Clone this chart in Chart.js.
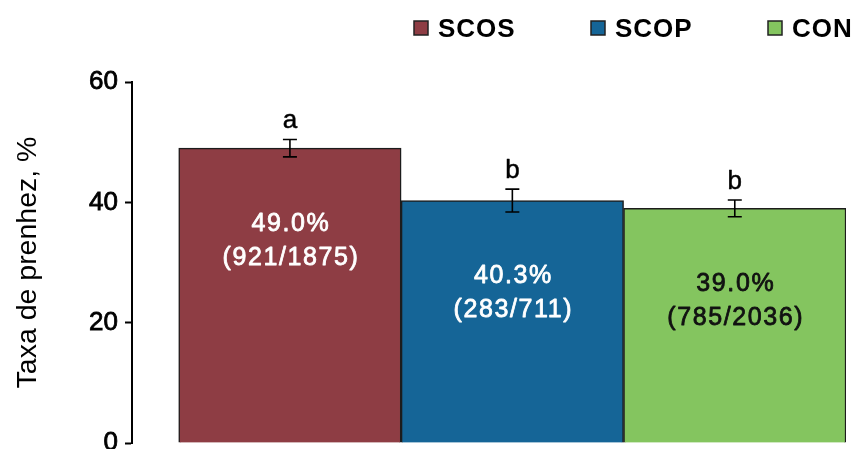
<!DOCTYPE html>
<html>
<head>
<meta charset="utf-8">
<script src="https://cdn.jsdelivr.net/npm/chart.js@4"></script>
<style>
  html, body { margin: 0; padding: 0; background: #fff; }
  #wrap { width: 857px; height: 449px; }
</style>
</head>
<body>
<div id="wrap"><canvas id="chart" width="857" height="449"></canvas></div>
<script>
// Pregnancy rate per treatment group
const categories = ['SCOS', 'SCOP', 'CON'];
const rates = [49.0, 40.3, 39.0];          // %
const errors = [1.45, 1.9, 1.4];           // standard error, %
const pregnant = [921, 283, 785];
const totals = [1875, 711, 2036];
const letters = ['a', 'b', 'b'];
const yTicks = [0, 20, 40, 60];

const fills = ['#8E3D44', '#156597', '#84C55F'];
const labelInk = ['#ffffff', '#ffffff', '#111111'];
const FONT = '"Liberation Sans", Arial, Helvetica, sans-serif';

// fill + thin stroke of the same colour for a medium-weight look
function heavyText(ctx, text, x, y, width) {
  ctx.lineWidth = width;
  ctx.strokeStyle = ctx.fillStyle;
  ctx.lineJoin = 'round';
  ctx.strokeText(text, x, y);
  ctx.fillText(text, x, y);
}

const annotations = {
  id: 'annotations',
  afterDatasetsDraw(chart) {
    const ctx = chart.ctx;
    const y = chart.scales.y;
    const bars = chart.getDatasetMeta(0).data;
    bars.forEach((bar, i) => {
      const cx = bar.x;
      const hi = y.getPixelForValue(rates[i] + errors[i]);
      const lo = y.getPixelForValue(rates[i] - errors[i]);
      ctx.save();
      // error bar
      ctx.strokeStyle = '#000';
      ctx.lineWidth = 1.6;
      ctx.beginPath();
      ctx.moveTo(cx, hi); ctx.lineTo(cx, lo);
      ctx.moveTo(cx - 7, hi); ctx.lineTo(cx + 7, hi);
      ctx.moveTo(cx - 7, lo); ctx.lineTo(cx + 7, lo);
      ctx.stroke();
      // significance letter
      ctx.fillStyle = '#000';
      ctx.font = '26px ' + FONT;
      ctx.textAlign = 'center';
      ctx.textBaseline = 'alphabetic';
      heavyText(ctx, letters[i], cx, hi - 11, 0.5);
      // value and counts inside the bar
      ctx.fillStyle = labelInk[i];
      ctx.font = '25px ' + FONT;
      ctx.letterSpacing = '1.6px';
      ctx.textBaseline = 'middle';
      const mid = bar.y + 93;
      heavyText(ctx, rates[i].toFixed(1) + '%', cx + 1, mid - 17, 0.8);
      heavyText(ctx, '(' + pregnant[i] + '/' + totals[i] + ')', cx + 1, mid + 17, 0.8);
      ctx.restore();
    });
  }
};

const topLegend = {
  id: 'topLegend',
  afterDraw(chart) {
    const ctx = chart.ctx;
    const startX = chart.chartArea.right - 432;
    ctx.save();
    ctx.font = 'bold 26px ' + FONT;
    ctx.letterSpacing = '1px';
    ctx.textAlign = 'left';
    ctx.textBaseline = 'middle';
    categories.forEach((name, i) => {
      const x = startX + i * 177;
      ctx.fillStyle = fills[i];
      ctx.fillRect(x, 21, 14, 14);
      ctx.strokeStyle = '#222';
      ctx.lineWidth = 1.5;
      ctx.strokeRect(x, 21, 14, 14);
      ctx.fillStyle = '#000';
      ctx.fillText(name, x + 24, 30);
    });
    ctx.restore();
  }
};

new Chart(document.getElementById('chart'), {
  type: 'bar',
  data: {
    datasets: [{
      label: 'Taxa de prenhez',
      data: categories.map((c, i) => ({ x: i, y: rates[i] })),
      backgroundColor: fills,
      borderColor: '#1c1c1c',
      borderWidth: 1.5,
      barPercentage: 1,
      categoryPercentage: 1
    }]
  },
  options: {
    responsive: false,
    animation: false,
    devicePixelRatio: 1,
    layout: { padding: { top: 82, bottom: 6, left: 0, right: 11 } },
    plugins: { legend: { display: false }, tooltip: { enabled: false } },
    scales: {
      x: {
        type: 'linear',
        display: false,
        offset: false,
        min: -0.71,
        max: 2.5,
        afterBuildTicks(scale) { scale.ticks = categories.map((c, i) => ({ value: i })); }
      },
      y: {
        min: yTicks[0],
        max: yTicks[yTicks.length - 1],
        afterBuildTicks(scale) { scale.ticks = yTicks.map(v => ({ value: v })); },
        afterFit(scale) {
          scale.width = 132;
          scale.paddingTop = 0;
          scale.paddingBottom = 0;
        },
        border: { display: true, color: '#000', width: 2 },
        grid: {
          drawOnChartArea: false,
          drawTicks: true,
          tickLength: 7,
          tickWidth: 2,
          tickColor: '#000'
        },
        ticks: {
          color: '#000',
          padding: 7,
          textStrokeColor: '#000',
          textStrokeWidth: 0.8,
          font: { family: FONT, size: 26 }
        },
        title: {
          display: true,
          text: 'Taxa de prenhez, %',
          color: '#000',
          font: { family: FONT, size: 28.5 },
          padding: { top: 11, bottom: 0 }
        }
      }
    }
  },
  plugins: [annotations, topLegend]
});
</script>
</body>
</html>
